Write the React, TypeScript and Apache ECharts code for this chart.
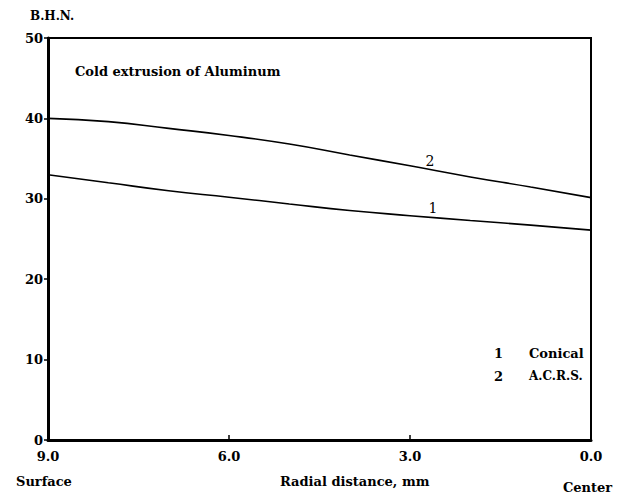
import React, { useEffect, useRef } from "react";
import * as echarts from "echarts";

const radialDistance = [9, 8, 7, 6, 5, 4, 3, 2, 1, 0];
const conical = [33.0, 32.0, 31.0, 30.2, 29.36, 28.54, 27.9, 27.3, 26.73, 26.1];
const acrs = [40.0, 39.6, 38.76, 37.88, 36.81, 35.45, 34.1, 32.72, 31.47, 30.15];
const xTicks = [0, 3, 6, 9];
const yTicks = [0, 10, 20, 30, 40, 50];

const FONT = "DejaVu Serif";

export default function App() {
  const ref = useRef<HTMLDivElement>(null);
  useEffect(() => {
    if (!ref.current) return;
    const chart = echarts.init(ref.current, undefined, { renderer: "svg" });
    const mk = (vals: number[], tag: string, offset: number[]) =>
      radialDistance.map((x, i) =>
        x === 3
          ? {
              value: [x, vals[i]],
              label: {
                show: true,
                formatter: tag,
                position: "inside",
                offset,
                color: "#000",
                textBorderWidth: 0,
                textBorderColor: "transparent",
                fontFamily: FONT,
                fontSize: 14,
              },
            }
          : { value: [x, vals[i]] }
      );
    chart.setOption({
      animation: false,
      backgroundColor: "#fff",
      grid: {
        left: 48,
        right: 34,
        top: 38,
        bottom: 61,
        show: true,
        borderColor: "#000",
        borderWidth: 2,
      },
      xAxis: {
        type: "value",
        inverse: true,
        min: 0,
        max: 9,
        interval: 3,
        axisLine: { onZero: false, lineStyle: { color: "#000", width: 3 } },
        axisTick: { inside: true, length: 5, lineStyle: { color: "#000", width: 1.5 } },
        splitLine: { show: false },
        axisLabel: {
          color: "#000",
          fontFamily: FONT,
          fontSize: 13,
          fontWeight: "bold",
          margin: 10,
          formatter: (v: number) => (xTicks.includes(v) ? v.toFixed(1) : ""),
        },
      },
      yAxis: {
        type: "value",
        position: "left",
        min: 0,
        max: 50,
        interval: 10,
        axisLine: { show: true, onZero: false, lineStyle: { color: "#000", width: 3 } },
        axisTick: { show: true, length: 4, lineStyle: { color: "#000", width: 1.5 } },
        splitLine: { show: false },
        axisLabel: {
          color: "#000",
          fontFamily: FONT,
          fontSize: 13,
          fontWeight: "bold",
          margin: 5,
          formatter: (v: number) => (yTicks.includes(v) ? String(v) : ""),
        },
      },
      series: [
        {
          type: "line",
          name: "Conical",
          data: mk(conical, "1", [23, -8]),
          smooth: true,
          showSymbol: true,
          symbol: "circle",
          symbolSize: 0,
          lineStyle: { color: "#000", width: 1.6 },
          itemStyle: { color: "#000" },
        },
        {
          type: "line",
          name: "A.C.R.S.",
          data: mk(acrs, "2", [20, -5]),
          smooth: true,
          showSymbol: true,
          symbol: "circle",
          symbolSize: 0,
          lineStyle: { color: "#000", width: 1.6 },
          itemStyle: { color: "#000" },
        },
      ],
      graphic: [
        { type: "text", left: 30, top: 10, style: { text: "B.H.N.", font: `bold 12px "${FONT}"`, fill: "#000" } },
        { type: "text", left: 75, top: 65, style: { text: "Cold extrusion of Aluminum", font: `bold 13px "${FONT}"`, fill: "#000" } },
        { type: "text", left: 494, top: 347, style: { text: "1", font: `bold 13px "${FONT}"`, fill: "#000" } },
        { type: "text", left: 529, top: 347, style: { text: "Conical", font: `bold 13px "${FONT}"`, fill: "#000" } },
        { type: "text", left: 494, top: 370, style: { text: "2", font: `bold 13px "${FONT}"`, fill: "#000" } },
        { type: "text", left: 529, top: 370, style: { text: "A.C.R.S.", font: `bold 12px "${FONT}"`, fill: "#000" } },
        { type: "text", left: 16, top: 475, style: { text: "Surface", font: `bold 13px "${FONT}"`, fill: "#000" } },
        { type: "text", left: 280, top: 475, style: { text: "Radial distance, mm", font: `bold 13px "${FONT}"`, fill: "#000" } },
        { type: "text", left: 563, top: 481, style: { text: "Center", font: `bold 13px "${FONT}"`, fill: "#000" } },
      ],
    });
    return () => chart.dispose();
  }, []);
  return <div ref={ref} style={{ width: 625, height: 501, position: "absolute", left: 0, top: 0 }} />;
}
